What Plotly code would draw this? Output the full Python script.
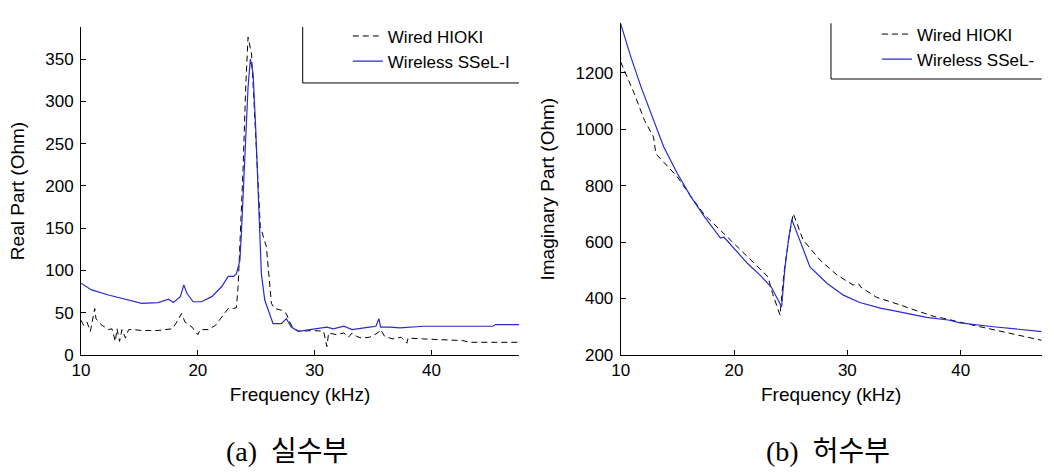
import plotly.graph_objects as go

# (a) real part, kHz / Ohm
re_wired_f = [10.0, 10.23, 10.5, 10.8, 11.17, 11.28, 11.5, 11.8, 12.05, 12.35, 12.65, 12.93, 13.08, 13.3, 13.5,
              13.8, 14.07, 14.5, 15.2, 16.6, 17.8, 18.2, 18.6, 18.9, 19.5, 20.0, 20.2, 20.9, 21.5, 22.05, 22.6,
              23.05, 23.3, 23.45, 23.65, 23.87, 24.1, 24.3, 24.6, 24.87, 25.15, 25.35, 25.87, 26.1, 26.3, 26.58,
              27.15, 27.58, 27.86, 28.2, 28.7, 29.9, 30.77, 31.05, 31.2, 31.9, 32.5, 32.9, 33.2, 33.6, 34.0,
              34.7, 35.4, 35.65, 36.0, 36.7, 37.4, 37.9, 38.0, 39.3, 40.7, 42.7, 43.3, 47.5]
re_wired = [41, 35, 39, 28, 55, 43, 39, 35, 33, 30, 31, 16, 31, 16, 30,
            20, 30, 30, 29, 29, 31, 39, 49, 39, 33, 24, 30, 30, 35, 45, 55,
            55, 56, 81, 144, 219, 317, 376, 356, 278, 199, 152, 128, 96, 61, 55,
            53, 49, 39, 31, 28, 29, 28, 10, 26, 24, 26, 21, 26, 22, 20,
            21, 26, 30, 22, 19, 21, 14, 20, 19, 18, 17, 15, 15]

re_wireless_f = [10.0, 10.9, 12.35, 13.8, 15.2, 16.6, 17.5, 17.9, 18.5, 18.8, 19.06, 19.6, 20.3, 21.2, 22.05,
                 22.6, 23.05, 23.3, 23.6, 23.73, 24.0, 24.3, 24.5, 24.73, 24.96, 25.24, 25.44, 25.73, 26.15,
                 26.44, 27.15, 27.58, 28.0, 28.6, 29.6, 30.2, 31.05, 31.6, 32.5, 33.2, 33.9, 34.7, 35.25, 35.5,
                 35.65, 36.45, 37.3, 38.4, 39.3, 42.1, 45.25, 45.5, 47.5]
re_wireless = [85, 77, 71, 66, 61, 62, 66, 62, 69, 83, 73, 63, 63, 69, 81,
               93, 93, 96, 112, 144, 219, 317, 350, 333, 266, 159, 96, 65, 49,
               37, 37, 43, 33, 28, 30, 31, 33, 31, 34, 30, 31, 33, 34, 43,
               33, 33, 32, 33, 34, 34, 34, 36, 36]

# (b) imaginary part
im_wired_f = [10.0, 10.6, 11.2, 12.1, 12.7, 12.9, 13.1, 14.2, 15.0, 15.9, 17.4, 18.8, 20.0, 21.5, 23.0, 23.4,
              24.06, 24.4, 24.9, 25.23, 26.1, 27.6, 29.1, 30.5, 31.0, 31.2, 32.6, 34.7, 35.5, 37.7, 38.5,
              40.6, 41.4, 43.6, 44.4, 46.7, 47.15]
im_wired = [1238, 1185, 1126, 1031, 984, 972, 913, 866, 831, 778, 696, 642, 595, 536, 477, 418,
            341, 489, 630, 701, 607, 536, 483, 448, 452, 440, 404, 377, 365, 336, 330,
            310, 303, 283, 274, 255, 252]

im_wireless_f = [10.0, 10.9, 11.8, 12.9, 13.8, 15.0, 16.2, 17.4, 18.5, 18.8, 19.1, 20.0, 21.2, 22.3, 23.3,
                 24.2, 24.5, 24.8, 25.1, 25.8, 26.7, 28.2, 29.65, 31.1, 33.0, 34.06, 35.9, 37.0, 38.9,
                 39.95, 42.9, 45.0, 47.15]
im_wireless = [1373, 1255, 1149, 1031, 937, 843, 760, 689, 630, 614, 618, 577, 524, 483, 440,
               371, 512, 607, 680, 607, 512, 454, 412, 386, 365, 357, 342, 333, 324,
               314, 300, 292, 283]

blue = "#2a2ad0"
dash = "6px,4px"
font = "Liberation Sans, Arial, sans-serif"

fig = go.Figure()
fig.add_trace(go.Scatter(x=re_wired_f, y=re_wired, mode="lines", name="Wired HIOKI", legendgroup="a1",
                         line=dict(color="black", width=1, dash=dash), xaxis="x", yaxis="y", legend="legend"))
fig.add_trace(go.Scatter(x=re_wireless_f, y=re_wireless, mode="lines", name="Wireless SSeL-I", legendgroup="a2",
                         line=dict(color=blue, width=1.2), xaxis="x", yaxis="y", legend="legend"))
fig.add_trace(go.Scatter(x=im_wired_f, y=im_wired, mode="lines", name="Wired HIOKI", legendgroup="b1",
                         line=dict(color="black", width=1, dash=dash), xaxis="x2", yaxis="y2", legend="legend2"))
fig.add_trace(go.Scatter(x=im_wireless_f, y=im_wireless, mode="lines", name="Wireless SSeL-", legendgroup="b2",
                         line=dict(color=blue, width=1.2), xaxis="x2", yaxis="y2", legend="legend2"))

ax = dict(showline=True, linecolor="black", linewidth=1, mirror=False, showgrid=False, zeroline=False,
          ticks="inside", ticklen=5, tickcolor="black", tickfont=dict(family=font, size=17, color="black"),
          automargin=False)
title_font = dict(family=font, size=19, color="black")
cap_font = dict(family="Liberation Serif, Noto Sans CJK KR", size=28, color="black")

fig.update_layout(
    width=1054, height=472,
    margin=dict(l=0, r=0, t=0, b=0),
    paper_bgcolor="white", plot_bgcolor="white",
    showlegend=True,
    xaxis=dict(ax, domain=[0.0769, 0.4924], range=[10, 47.5], tickvals=[10, 20, 30, 40], anchor="y",
               title=dict(text="Frequency (kHz)", font=title_font, standoff=8)),
    yaxis=dict(ax, domain=[0.2479, 0.9428], range=[0, 388], dtick=50, anchor="x", ticklabelstandoff=3,
               title=dict(text="Real Part (Ohm)", font=title_font, standoff=15)),
    xaxis2=dict(ax, domain=[0.5889, 0.9883], range=[10, 47.15], tickvals=[10, 20, 30, 40], anchor="y2",
                title=dict(text="Frequency (kHz)", font=title_font, standoff=8)),
    yaxis2=dict(ax, domain=[0.2479, 0.9506], range=[200, 1375], dtick=200, anchor="x2", ticklabelstandoff=3,
                title=dict(text="Imaginary Part (Ohm)", font=title_font, standoff=15)),
    legend=dict(x=0.33, y=0.961, xanchor="left", yanchor="top", bgcolor="rgba(0,0,0,0)",
                font=dict(family=font, size=17, color="black"), itemwidth=30, tracegroupgap=0),
    legend2=dict(x=0.832, y=0.965, xanchor="left", yanchor="top", bgcolor="rgba(0,0,0,0)",
                 font=dict(family=font, size=17, color="black"), itemwidth=30, tracegroupgap=0),
    shapes=[
        dict(type="line", xref="paper", yref="paper", x0=0.2872, x1=0.2872, y0=0.9428, y1=0.8242,
             line=dict(color="black", width=1)),
        dict(type="line", xref="paper", yref="paper", x0=0.2872, x1=0.4924, y0=0.8242, y1=0.8242,
             line=dict(color="black", width=1)),
        dict(type="line", xref="paper", yref="paper", x0=0.7884, x1=0.7884, y0=0.9506, y1=0.8326,
             line=dict(color="black", width=1)),
        dict(type="line", xref="paper", yref="paper", x0=0.7884, x1=0.9883, y0=0.8326, y1=0.8326,
             line=dict(color="black", width=1)),
    ],
    annotations=[
        dict(text="(a)  실수부", x=0.2723, y=0.0424, xref="paper", yref="paper", showarrow=False,
             xanchor="center", yanchor="middle", font=cap_font),
        dict(text="(b)  허수부", x=0.7856, y=0.0424, xref="paper", yref="paper", showarrow=False,
             xanchor="center", yanchor="middle", font=cap_font),
    ],
)

fig.write_html("out.html", config={"displayModeBar": False},
               post_script="document.body.style.margin='0';")
